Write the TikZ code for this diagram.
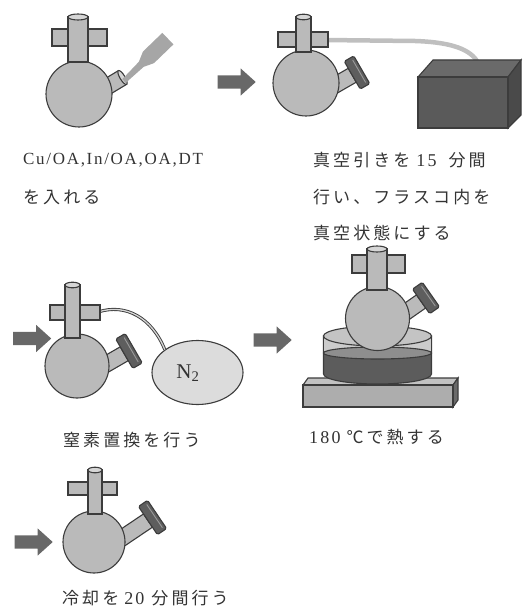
\documentclass[tikz,border=0pt]{standalone}
\usepackage{fontspec}
\setmainfont{Liberation Serif}
\newfontfamily\jp{Noto Sans CJK JP}[LetterSpace=18]
\newfontfamily\ser{Liberation Serif}[LetterSpace=12]
\newfontfamily\serlab{Liberation Serif}[LetterSpace=10]
\usetikzlibrary{shapes.arrows,shapes.geometric}

\definecolor{edge}{HTML}{3C3C3C}
\definecolor{glassgrey}{HTML}{BABABA}
\definecolor{mouthgrey}{HTML}{D6D6D6}
\definecolor{capgrey}{HTML}{5E5E5E}
\definecolor{caplight}{HTML}{9A9A9A}
\definecolor{arrowgrey}{HTML}{686868}
\definecolor{textgrey}{HTML}{333333}
\definecolor{pipettegrey}{HTML}{A6A6A6}
\definecolor{hosegrey}{HTML}{BFBFBF}
\definecolor{pumpfront}{HTML}{5A5A5A}
\definecolor{pumptop}{HTML}{6A6A6A}
\definecolor{pumpside}{HTML}{4A4A4A}
\definecolor{gasgrey}{HTML}{DCDCDC}
\definecolor{platefront}{HTML}{ADADAD}
\definecolor{platetop}{HTML}{C2C2C2}
\definecolor{plateside}{HTML}{6A6A6A}
\definecolor{bathdark}{HTML}{5C5C5C}
\definecolor{bandlight}{HTML}{CCCCCC}
\definecolor{liquid}{HTML}{8E8E8E}
\definecolor{rimgrey}{HTML}{C4C4C4}

\begin{document}
\begin{tikzpicture}[x=1pt,y=-1pt,
  glass/.style={fill=glassgrey, draw=edge, line width=1.1pt},
  mouth/.style={fill=mouthgrey, draw=edge, line width=1.1pt},
  capbody/.style={fill=capgrey, draw=edge, line width=1.1pt, rounded corners=1.5pt},
  caprim/.style={draw=caplight, line width=0.9pt},
  outline/.style={draw=edge, line width=1.1pt},
  blockarrow/.style={single arrow, fill=arrowgrey, draw=none, minimum height=38pt,
    inner xsep=0pt, inner ysep=6.5pt, single arrow head extend=7pt, single arrow tip angle=84},
  caption/.style={anchor=west, inner sep=0pt, text=textgrey,
    font=\fontsize{17pt}{20pt}\selectfont\jp},
]
\newcommand\numtext[1]{{\fontsize{18pt}{20pt}\selectfont\ser #1}}
\useasboundingbox (0,0) rectangle (522,609);

% ---------- step 1: charging the flask ----------
\begin{scope}[shift={(122.5,77.5)}, rotate=31]
  \draw[glass] (-24,-8) rectangle (0,8);
  \draw[mouth] (0,0) ellipse[x radius=2.5pt, y radius=8pt];
\end{scope}
\draw[glass] (79,94) circle[radius=33pt];
\draw[glass] (52,29) rectangle (107,46);
\draw[glass] (68,17) rectangle (88,62);
\draw[mouth] (78,17) ellipse[x radius=10pt, y radius=3pt];
\begin{scope}[shift={(124,81)}, rotate=44]
  \fill[pipettegrey] (0,-2.5) -- (24,-3.5) -- (34,-8) -- (61,-8) -- (61,8)
    -- (34,8) -- (24,3.5) -- (0,2.5) -- cycle;
\end{scope}

\node[blockarrow] (arr1) at (233,82) {};

% ---------- step 2: evacuation ----------
\coordinate (hoseA) at (324,40);
\coordinate (pumpin) at (477,61);
\draw[hosegrey, line width=4.5pt] (hoseA) -- (415,41) .. controls (445,42) and (468,47) .. (pumpin);
% vacuum pump
\draw[outline, fill=pumptop] (418,77) -- (433,60) -- (521,60) -- (508,77) -- cycle;
\draw[outline, fill=pumpside] (508,77) -- (521,60) -- (521,115) -- (508,128) -- cycle;
\draw[outline, fill=pumpfront] (418,77) rectangle (508,128);
% flask
\begin{scope}[shift={(357,72.5)}, rotate=30]
  \draw[glass] (-40,-8) rectangle (-5.5,8);
  \draw[capbody] (-5.5,-16) rectangle (5.5,16);
  \draw[caprim] (2.5,-13) -- (2.5,13);
\end{scope}
\draw[glass] (306,83) circle[radius=33pt];
\draw[glass] (278,32) rectangle (328,47);
\draw[glass] (296,17) rectangle (311,52);
\draw[mouth] (303.5,17) ellipse[x radius=7.5pt, y radius=2.8pt];

% ---------- step 3: nitrogen purge ----------
\node[blockarrow] (arr2) at (28.5,338.5) {};
\node[ellipse, minimum width=91pt, minimum height=64pt, inner sep=0pt,
  fill=gasgrey, draw=edge, line width=1.1pt] (n2) at (197.5,372.5) {};
\node[inner sep=0pt, text=textgrey, font=\fontsize{21pt}{24pt}\selectfont] (n2label)
  at (188,373) {N\textsubscript{2}};
\coordinate (hoseB) at (98,312);
\draw[draw=edge, line width=0.9pt, double=mouthgrey, double distance=1.3pt]
  (hoseB) .. controls (126,303) and (152,318) .. (n2.145);
\begin{scope}[shift={(129,351)}, rotate=30]
  \draw[glass] (-40,-8) rectangle (-5.5,8);
  \draw[capbody] (-5.5,-17) rectangle (5.5,17);
  \draw[caprim] (2.5,-14) -- (2.5,14);
\end{scope}
\draw[glass] (77,366) circle[radius=32pt];
\draw[glass] (50,305) rectangle (100,320);
\draw[glass] (65,285) rectangle (80,338);
\draw[mouth] (72.5,285) ellipse[x radius=7.5pt, y radius=2.8pt];

\node[blockarrow] (arr3) at (269,340) {};

% ---------- step 4: heating ----------
% hot plate
\draw[outline, fill=platetop] (303,385) -- (308,378) -- (458,378) -- (453,385) -- cycle;
\draw[outline, fill=plateside] (453,385) -- (458,378) -- (458,400) -- (453,407) -- cycle;
\draw[outline, fill=platefront] (303,385) rectangle (453,407);
% oil bath
\draw[outline, fill=bathdark] (323.5,336) -- (323.5,374)
  arc[start angle=180, end angle=360, x radius=54pt, y radius=10pt] -- (431.5,336) -- cycle;
\fill[bandlight] (323.5,336) rectangle (431.5,353);
\draw[outline, fill=liquid] (377.5,353) ellipse[x radius=54pt, y radius=6pt];
\draw[outline] (323.5,336) -- (323.5,374) (431.5,336) -- (431.5,374);
\draw[outline, fill=rimgrey] (377.5,336) ellipse[x radius=54pt, y radius=10pt];
% flask
\begin{scope}[shift={(426,298)}, rotate=35]
  \draw[glass] (-34,-8) rectangle (-6,8);
  \draw[capbody] (-6,-15) rectangle (6,15);
  \draw[caprim] (3,-12) -- (3,12);
\end{scope}
\draw[glass] (377.5,318.5) circle[radius=32pt];
\draw[glass] (352,255) rectangle (405,273);
\draw[glass] (367,249) rectangle (387,290);
\draw[mouth] (377,249) ellipse[x radius=10pt, y radius=3pt];

% ---------- step 5: cooling ----------
\node[blockarrow] (arr4) at (30,542) {};
\begin{scope}[shift={(152.5,517.5)}, rotate=34]
  \draw[glass] (-52,-8) rectangle (-5.5,8);
  \draw[capbody] (-5.5,-17) rectangle (5.5,17);
  \draw[caprim] (2.5,-14) -- (2.5,14);
\end{scope}
\draw[glass] (94,542) circle[radius=31pt];
\draw[glass] (68,482) rectangle (117,495);
\draw[glass] (88,470) rectangle (102,514);
\draw[mouth] (95,470) ellipse[x radius=7pt, y radius=2.8pt];

% ---------- captions ----------
\node[anchor=west, inner sep=0pt, text=textgrey, font=\fontsize{17pt}{20pt}\selectfont\serlab]
  (cap1a) at (23,160) {Cu/OA,In/OA,OA,DT};
\node[caption] (cap1b) at (23,197) {を入れる};
\node[caption] (cap2a) at (313,160)
  {真空引きを\hspace{6pt}\numtext{15}\hspace{12pt}分間};
\node[caption] (cap2b) at (313,197) {行い、フラスコ内を};
\node[caption] (cap2c) at (313,233) {真空状態にする};
\node[caption] (cap3) at (63,440) {窒素置換を行う};
\node[caption] (cap4) at (309,437) {\numtext{180}\hspace{6pt}℃で熱する};
\node[caption] (cap5) at (62,598) {冷却を\hspace{5pt}\numtext{20}\hspace{7pt}分間行う};
\end{tikzpicture}
\end{document}
